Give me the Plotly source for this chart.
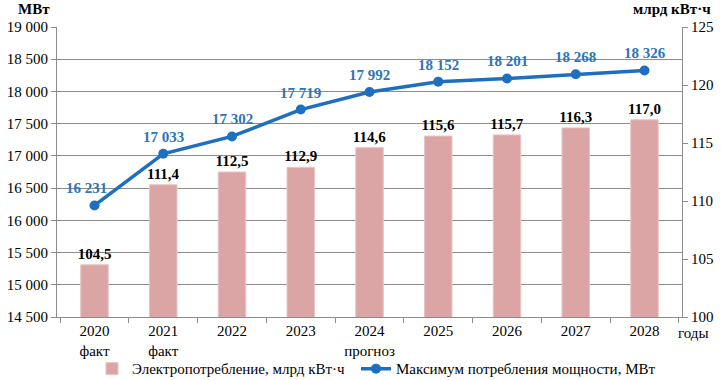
import plotly.graph_objects as go

categories = ["2020<br>факт", "2021<br>факт", "2022", "2023", "2024<br>прогноз", "2025", "2026", "2027", "2028"]
consumption = [104.5, 111.4, 112.5, 112.9, 114.6, 115.6, 115.7, 116.3, 117.0]
max_power = [16231, 17033, 17302, 17719, 17992, 18152, 18201, 18268, 18326]
left_ticks = list(range(14500, 19001, 500))
right_ticks = list(range(100, 126, 5))

FONT = "Liberation Serif"
FS = 15
BLUE = "#1F6FBF"
LBLUE = "#2E75B6"
PINK = "#DCA5A5"
GRID = "#8c8c8c"

def thou(v):
    return f"{v:,}".replace(",", " ")

fig = go.Figure()
fig.add_trace(go.Bar(
    x=categories, y=consumption, name="Электропотребление, млрд кВт·ч",
    yaxis="y2", marker=dict(color=PINK, line=dict(color="#E8C4C4", width=1)),
    width=0.4, legend="legend",
    text=[f"<b>{v:.1f}</b>".replace(".", ",") for v in consumption],
    textposition="outside", cliponaxis=False, constraintext="none",
    textfont=dict(family=FONT, size=FS, color="black"),
))
fig.add_trace(go.Scatter(
    x=categories, y=max_power, name="Максимум потребления мощности, МВт",
    mode="lines+markers", line=dict(color=BLUE, width=3.5), legend="legend2",
    marker=dict(size=10, color=BLUE), cliponaxis=False,
))

annots = []
for i, (c, v) in enumerate(zip(categories, max_power)):
    annots.append(dict(x=i, y=v, xref="x", yref="y", text=f"<b>{thou(v)}</b>",
                       showarrow=False, yanchor="bottom", yshift=7,
                       xshift=-8 if i == 0 else 0,
                       font=dict(family=FONT, size=FS, color=LBLUE)))

annots += [
    dict(text="<b>МВт</b>", xref="paper", yref="paper", x=(16 - 57) / 625, y=1.0,
         yshift=18, xanchor="left", yanchor="middle", showarrow=False,
         font=dict(family=FONT, size=FS)),
    dict(text="<b>млрд кВт·ч</b>", xref="paper", yref="paper", x=(713 - 57) / 625, y=1.0,
         yshift=18, xanchor="right", yanchor="middle", showarrow=False,
         font=dict(family=FONT, size=FS)),
    dict(text="годы", xref="paper", yref="paper", x=(676 - 57) / 625, y=0, yshift=-16,
         xanchor="left", yanchor="middle", showarrow=False,
         font=dict(family=FONT, size=FS)),
]

leg_common = dict(orientation="h", xanchor="left", y=-0.122, yanchor="top",
                  font=dict(family=FONT, size=FS), itemwidth=30,
                  bgcolor="rgba(0,0,0,0)")

fig.update_layout(
    width=721, height=380,
    margin=dict(l=57, r=39, t=27, b=63, autoexpand=False),
    plot_bgcolor="white", paper_bgcolor="white",
    font=dict(family=FONT, size=FS, color="black"),
    separators=", ",
    showlegend=True,
    legend=dict(x=(92 - 57) / 625, **leg_common),
    legend2=dict(x=(356 - 57) / 625, **leg_common),
    xaxis=dict(type="category", showline=True, linecolor=GRID, ticks="outside", tickcolor=GRID,
               ticklen=5, tickson="boundaries", showgrid=False, automargin=False,
               tickfont=dict(family=FONT, size=FS)),
    yaxis=dict(range=[14500, 19000], tickvals=left_ticks,
               ticktext=[thou(v) for v in left_ticks], automargin=False,
               showline=True, linecolor=GRID, ticks="outside", tickcolor=GRID,
               ticklen=5, showgrid=True, gridcolor=GRID, gridwidth=1, zeroline=False,
               tickfont=dict(family=FONT, size=FS)),
    yaxis2=dict(range=[100, 125], tickvals=right_ticks, overlaying="y", side="right",
                showline=True, linecolor=GRID, ticks="outside", tickcolor=GRID,
                ticklen=5, showgrid=False, zeroline=False, automargin=False,
                tickfont=dict(family=FONT, size=FS)),
    annotations=annots,
)

fig.write_html("out.html", config={"displayModeBar": False},
               post_script="document.body.style.margin='0';document.body.style.overflow='hidden';")
